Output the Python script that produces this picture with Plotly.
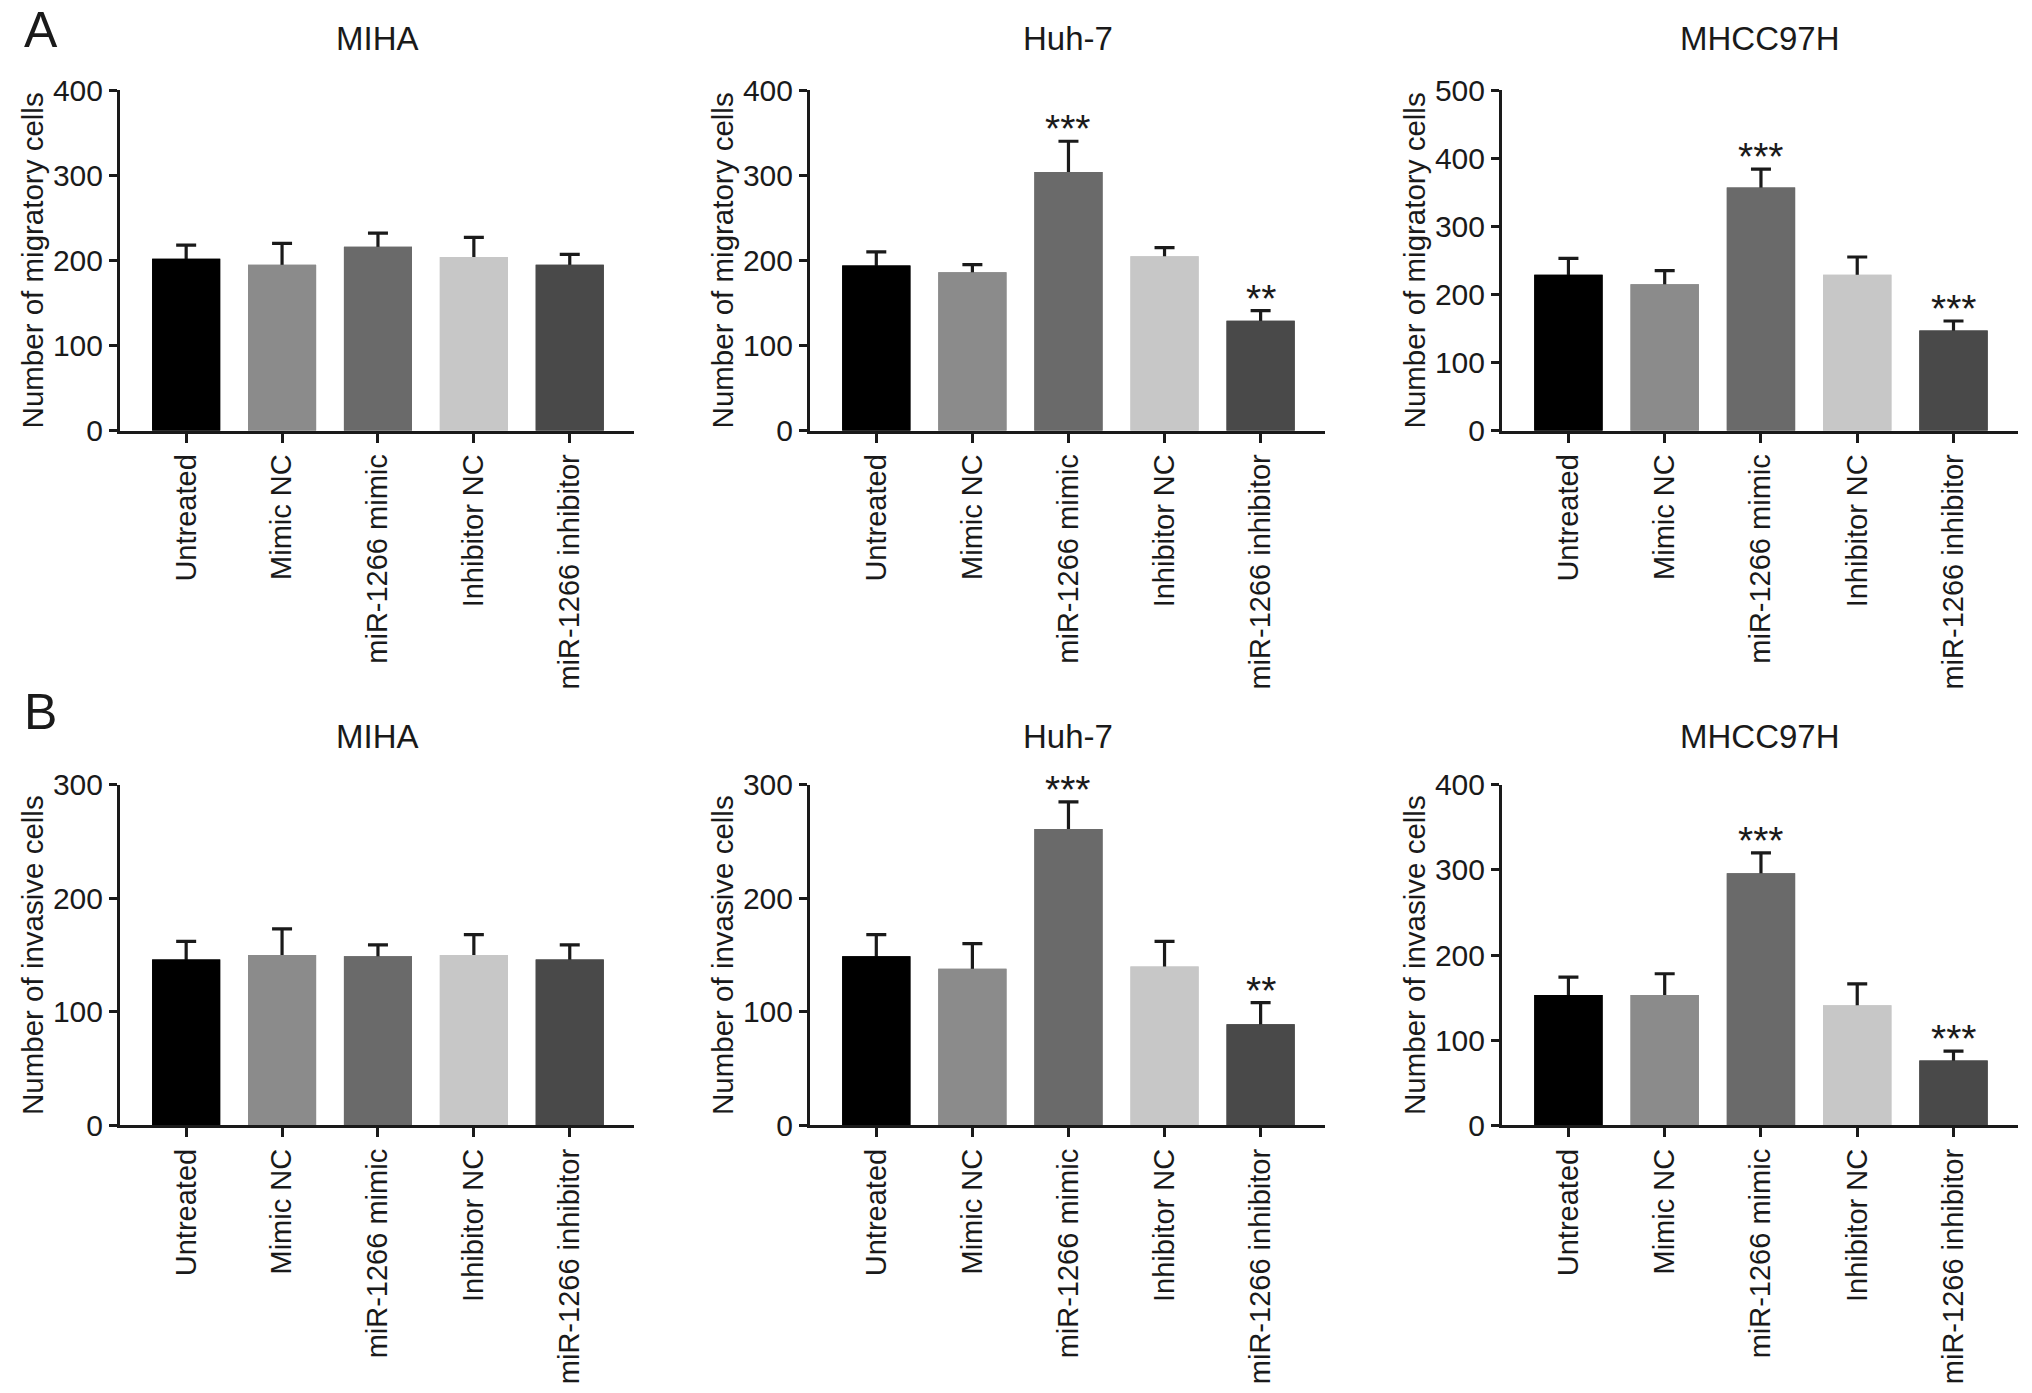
import plotly.graph_objects as go
from plotly.subplots import make_subplots

W, H = 2032, 1393

categories = ["Untreated", "Mimic NC", "miR-1266 mimic", "Inhibitor NC", "miR-1266 inhibitor"]
bar_colors = ["#000000", "#8b8b8b", "#6a6a6a", "#c7c7c7", "#494949"]
cell_lines = ["MIHA", "Huh-7", "MHCC97H"]

# panel A - migration
mig_miha = [202, 195, 216, 204, 195]
mig_miha_sd = [16, 25, 16, 23, 12]
mig_huh7 = [194, 186, 304, 205, 129]
mig_huh7_sd = [16, 9, 36, 10, 12]
mig_mhcc = [229, 215, 357, 229, 147]
mig_mhcc_sd = [24, 20, 27, 26, 14]

# panel B - invasion
inv_miha = [146, 150, 149, 150, 146]
inv_miha_sd = [16, 23, 10, 18, 13]
inv_huh7 = [149, 138, 261, 140, 89]
inv_huh7_sd = [19, 22, 24, 22, 19]
inv_mhcc = [153, 153, 296, 141, 76]
inv_mhcc_sd = [21, 25, 24, 25, 11]

stars_miha = ["", "", "", "", ""]
stars_huh7 = ["", "", "***", "", "**"]
stars_mhcc = ["", "", "***", "", "***"]

mig_ymax = [400, 400, 500]
inv_ymax = [300, 300, 400]

panels = [
    (1, 1, mig_miha, mig_miha_sd, stars_miha, mig_ymax[0], "Number of migratory cells"),
    (1, 2, mig_huh7, mig_huh7_sd, stars_huh7, mig_ymax[1], "Number of migratory cells"),
    (1, 3, mig_mhcc, mig_mhcc_sd, stars_mhcc, mig_ymax[2], "Number of migratory cells"),
    (2, 1, inv_miha, inv_miha_sd, stars_miha, inv_ymax[0], "Number of invasive cells"),
    (2, 2, inv_huh7, inv_huh7_sd, stars_huh7, inv_ymax[1], "Number of invasive cells"),
    (2, 3, inv_mhcc, inv_mhcc_sd, stars_mhcc, inv_ymax[2], "Number of invasive cells"),
]

# pixel layout of the plot areas
col_px = [(120, 634), (810, 1325), (1502, 2018)]
row_px = [(75, 424), (787, 1136)]
title_py = [22, 737]
letter_py = [13, 712]

FONT = "Liberation Sans, Arial, Helvetica, sans-serif"
INK = "#1a1a1a"

fig = make_subplots(rows=2, cols=3)
fig.update_layout(barmode="overlay")

annots = []
for row, col, vals, sd, stars, ymax, ytitle in panels:
    # error bars first, then a plain copy of the bars on top hides the lower half
    fig.add_trace(go.Bar(
        x=categories, y=vals, width=0.71,
        marker=dict(color=bar_colors, line=dict(width=0)),
        error_y=dict(type="data", array=sd, visible=True, color=INK, thickness=3.2, width=10),
        showlegend=False, hoverinfo="skip"), row=row, col=col)
    fig.add_trace(go.Bar(
        x=categories, y=vals, width=0.71,
        marker=dict(color=bar_colors, line=dict(width=0)),
        showlegend=False), row=row, col=col)

    n = (row - 1) * 3 + col
    sfx = "" if n == 1 else str(n)
    x0, x1 = col_px[col - 1]
    y0, y1 = row_px[row - 1]
    fig.update_layout({
        "xaxis" + sfx: dict(
            domain=[x0 / W, x1 / W], range=[-0.69, 4.67],
            showline=True, linewidth=3, linecolor=INK, mirror=False,
            ticks="outside", ticklen=9, tickwidth=3, tickcolor=INK,
            tickangle=-90, tickfont=dict(family=FONT, size=29, color=INK),
            showgrid=False, zeroline=False, fixedrange=True),
        "yaxis" + sfx: dict(
            domain=[1 - y1 / H, 1 - y0 / H], range=[0, ymax], dtick=100,
            showline=True, linewidth=3, linecolor=INK,
            ticks="outside", ticklen=8, tickwidth=3, tickcolor=INK,
            tickfont=dict(family=FONT, size=30, color=INK),
            showgrid=False, zeroline=False, fixedrange=True),
    })

    annots.append(dict(
        text=cell_lines[col - 1], xref="paper", yref="paper",
        x=(x0 + x1) / 2 / W, y=1 - title_py[row - 1] / H,
        xanchor="center", yanchor="middle", showarrow=False,
        font=dict(family=FONT, size=33, color=INK)))
    annots.append(dict(
        text=ytitle, xref="paper", yref="paper", textangle=-90,
        x=(x0 - 88) / W, y=1 - (y0 + y1) / 2 / H,
        xanchor="center", yanchor="middle", showarrow=False,
        font=dict(family=FONT, size=29.5, color=INK)))

    for cat, v, e, s in zip(categories, vals, sd, stars):
        if s:
            annots.append(dict(
                text=s, x=cat, y=v + e, xref="x" + sfx, yref="y" + sfx,
                xanchor="center", yanchor="bottom", yshift=-11,
                showarrow=False, font=dict(family=FONT, size=39, color=INK)))

for letter, py in zip(["A", "B"], letter_py):
    annots.append(dict(
        text=letter, xref="paper", yref="paper", x=22 / W, y=1 - py / H,
        xanchor="left", yanchor="middle", showarrow=False,
        font=dict(family=FONT, size=50, color=INK)))

fig.update_layout(
    width=W, height=H,
    margin=dict(l=0, r=0, t=0, b=0),
    paper_bgcolor="white", plot_bgcolor="white",
    annotations=annots,
    font=dict(family=FONT, color=INK),
)

fig.write_html("out.html", config={"displayModeBar": False},
               post_script="document.body.style.margin='0';")
